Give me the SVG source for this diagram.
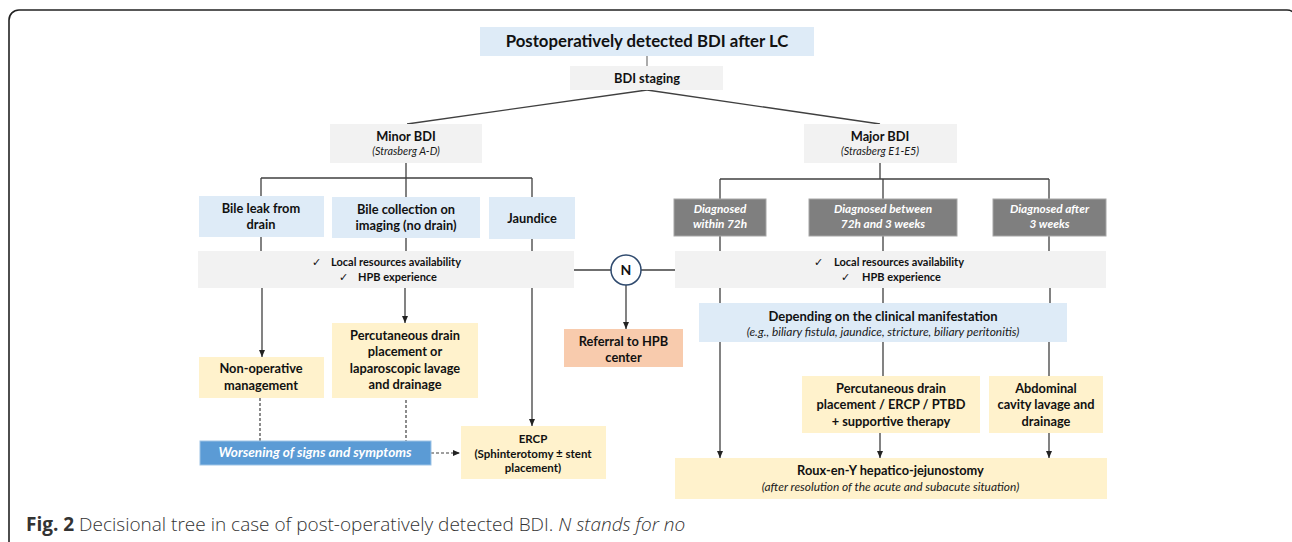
<svg xmlns="http://www.w3.org/2000/svg" width="1292" height="542" viewBox="0 0 1292 542">
<style>
  text { font-family: Lato, "Open Sans", "Liberation Sans", sans-serif; fill: #111; }
  .b { font-weight: 700; font-size: 12.8px; }
  .t { font-weight: 700; font-size: 16.8px; }
  .i { font-style: italic; font-size: 10.8px; fill: #1a1a1a; }
  .bi { font-style: italic; font-weight: 700; font-size: 11.8px; fill: #fff; }
  .w { font-style: italic; font-weight: 700; font-size: 13.6px; fill: #fff; }
  .s { font-weight: 700; font-size: 11px; }
  .ck { font-family: "DejaVu Sans", sans-serif; font-size: 11px; }
  .ii { font-style: italic; font-size: 11.9px; fill: #1a1a1a; }
  .sm { font-weight: 700; font-size: 11.5px; }
  .cap { font-family: "Open Sans", "Noto Sans", sans-serif; font-weight: 300; font-size: 19px; fill: #333; }
  .blue { fill: #deebf7; }
  .gray { fill: #f2f2f2; }
  .yel { fill: #fff2cc; }
  .sal { fill: #f8cbad; }
  .dk { fill: #7f7f7f; stroke: #a6a6a6; stroke-width: 1; }
  .wb { fill: #5b9bd5; stroke: #9dc3e6; stroke-width: 1; }
  .ln { stroke: #404040; stroke-width: 1.3; fill: none; }
  .ar { stroke: #404040; stroke-width: 1.3; fill: none; marker-end: url(#ah); }
  .da { stroke: #404040; stroke-width: 1.2; fill: none; stroke-dasharray: 3 2; }
</style>
<defs>
  <marker id="ah" markerWidth="7" markerHeight="6" refX="7" refY="3" orient="auto" markerUnits="userSpaceOnUse">
    <path d="M0,0 L7,3 L0,6 Z" fill="#222"/>
  </marker>
</defs>
<rect x="9" y="10" width="1288" height="560" rx="10" fill="#fff" stroke="#222" stroke-width="1.6"/>

<g id="connectors">
  <line x1="647" y1="56" x2="647" y2="66" stroke="#7f7f7f" stroke-width="1.3"/>
  <line class="ln" x1="647" y1="90" x2="407" y2="124"/>
  <line class="ln" x1="647" y1="90" x2="880" y2="124"/>
  <path class="ln" d="M406,163 V178 M261,178 H532 M261,178 V197 M406,178 V197 M532,178 V197"/>
  <path class="ln" d="M880,163 V179 M720,179 H1049 M720,179 V199 M883,179 V199 M1049,179 V199"/>
  <path class="ln" d="M261,237 V251 M406,238 V251 M532,239 V251"/>
  <path class="ln" d="M720,236 V251 M883,236 V251 M1049,236 V251"/>
  <path class="ln" d="M574,270 H611 M641,270 H675"/>
  <line class="ar" x1="626" y1="285" x2="626" y2="329"/>
  <line class="ar" x1="262" y1="288" x2="262" y2="357"/>
  <line class="ar" x1="405" y1="288" x2="405" y2="323"/>
  <line class="ar" x1="532" y1="288" x2="532" y2="426"/>
  <line class="da" x1="260" y1="398" x2="260" y2="441"/>
  <line class="da" x1="406" y1="390" x2="406" y2="441"/>
  <line class="da" x1="431" y1="453" x2="460" y2="453" marker-end="url(#ah)"/>
  <path class="ln" d="M720,288 V303 M883,288 V303 M1050,288 V303"/>
  <line class="ar" x1="720" y1="342" x2="720" y2="458"/>
  <line class="ln" x1="883" y1="342" x2="883" y2="376"/>
  <line class="ln" x1="1049" y1="342" x2="1049" y2="376"/>
  <line class="ar" x1="880" y1="433" x2="880" y2="458"/>
  <line class="ar" x1="1049" y1="433" x2="1049" y2="458"/>
</g>

<g id="title">
  <rect class="blue" x="480" y="27" width="334" height="29"/>
  <text class="t" x="647" y="47" text-anchor="middle">Postoperatively detected BDI after LC</text>
</g>
<g id="staging">
  <rect class="gray" x="570" y="66" width="153" height="24"/>
  <text class="b" x="647" y="83" text-anchor="middle">BDI staging</text>
</g>
<g id="minor">
  <rect class="gray" x="330" y="124" width="152" height="39"/>
  <text class="b" x="406" y="141" text-anchor="middle">Minor BDI</text>
  <text class="i" x="406" y="155" text-anchor="middle">(Strasberg A-D)</text>
</g>
<g id="major">
  <rect class="gray" x="804" y="124" width="153" height="39"/>
  <text class="b" x="880" y="141" text-anchor="middle">Major BDI</text>
  <text class="i" x="880" y="155" text-anchor="middle">(Strasberg E1-E5)</text>
</g>
<g id="bileleak">
  <rect class="blue" x="199" y="196" width="125" height="41"/>
  <text class="b" x="261" y="213" text-anchor="middle">Bile leak from</text>
  <text class="b" x="261" y="229" text-anchor="middle">drain</text>
</g>
<g id="bilecollection">
  <rect class="blue" x="332" y="197" width="148" height="41"/>
  <text class="b" x="406" y="214" text-anchor="middle">Bile collection on</text>
  <text class="b" x="406" y="230" text-anchor="middle">imaging (no drain)</text>
</g>
<g id="jaundice">
  <rect class="blue" x="489" y="197" width="86" height="42"/>
  <text class="b" x="532" y="223" text-anchor="middle">Jaundice</text>
</g>
<g id="diag72">
  <rect class="dk" x="674" y="199" width="92" height="37"/>
  <text class="bi" x="720" y="213" text-anchor="middle">Diagnosed</text>
  <text class="bi" x="720" y="228" text-anchor="middle">within 72h</text>
</g>
<g id="diagbetween">
  <rect class="dk" x="809" y="199" width="148" height="37"/>
  <text class="bi" x="883" y="213" text-anchor="middle">Diagnosed between</text>
  <text class="bi" x="883" y="228" text-anchor="middle">72h and 3 weeks</text>
</g>
<g id="diagafter">
  <rect class="dk" x="993" y="199" width="113" height="37"/>
  <text class="bi" x="1049.5" y="213" text-anchor="middle">Diagnosed after</text>
  <text class="bi" x="1049.5" y="228" text-anchor="middle">3 weeks</text>
</g>
<g id="resources-left">
  <rect class="gray" x="198" y="251" width="376" height="37"/>
  <text class="ck" x="312" y="266">✓</text>
  <text class="s" x="331" y="266">Local resources availability</text>
  <text class="ck" x="339" y="281">✓</text>
  <text class="s" x="358" y="281">HPB experience</text>
</g>
<g id="resources-right">
  <rect class="gray" x="675" y="251" width="431" height="37"/>
  <text class="ck" x="814" y="266">✓</text>
  <text class="s" x="834" y="266">Local resources availability</text>
  <text class="ck" x="841" y="281">✓</text>
  <text class="s" x="862" y="281">HPB experience</text>
</g>
<g id="n-decision">
  <circle cx="626" cy="270" r="15" fill="#fff" stroke="#2f4a6e" stroke-width="1.5"/>
  <text x="626" y="275" text-anchor="middle" style="font-weight:700;font-size:14px">N</text>
</g>
<g id="referral">
  <rect class="sal" x="564" y="329" width="119" height="38"/>
  <text class="b" x="623.5" y="346" text-anchor="middle">Referral to HPB</text>
  <text class="b" x="623.5" y="362" text-anchor="middle">center</text>
</g>
<g id="nonoperative">
  <rect class="yel" x="199" y="357" width="125" height="41"/>
  <text class="b" x="261" y="373" text-anchor="middle">Non-operative</text>
  <text class="b" x="261" y="390" text-anchor="middle">management</text>
</g>
<g id="percutaneous-left">
  <rect class="yel" x="332" y="323" width="146" height="75"/>
  <text class="b" x="405" y="340" text-anchor="middle">Percutaneous drain</text>
  <text class="b" x="405" y="356" text-anchor="middle">placement or</text>
  <text class="b" x="405" y="373" text-anchor="middle">laparoscopic lavage</text>
  <text class="b" x="405" y="389" text-anchor="middle">and drainage</text>
</g>
<g id="worsening">
  <rect class="wb" x="200" y="441" width="231" height="24"/>
  <text class="w" x="315" y="457" text-anchor="middle">Worsening of signs and symptoms</text>
</g>
<g id="ercp">
  <rect class="yel" x="461" y="426" width="145" height="53"/>
  <text class="sm" x="533" y="443" text-anchor="middle">ERCP</text>
  <text class="sm" x="533" y="458" text-anchor="middle">(Sphinterotomy ± stent</text>
  <text class="sm" x="533" y="472" text-anchor="middle">placement)</text>
</g>
<g id="depending">
  <rect class="blue" x="699" y="303" width="368" height="39"/>
  <text class="b" x="883" y="321" text-anchor="middle" style="font-size:13px">Depending on the clinical manifestation</text>
  <text class="ii" x="883" y="336" text-anchor="middle">(e.g., biliary fistula, jaundice, stricture, biliary peritonitis)</text>
</g>
<g id="percutaneous-right">
  <rect class="yel" x="802" y="376" width="178" height="57"/>
  <text class="b" x="891" y="393" text-anchor="middle">Percutaneous drain</text>
  <text class="b" x="891" y="409" text-anchor="middle">placement / ERCP / PTBD</text>
  <text class="b" x="891" y="426" text-anchor="middle">+ supportive therapy</text>
</g>
<g id="abdominal">
  <rect class="yel" x="989" y="376" width="114" height="57"/>
  <text class="b" x="1046" y="393" text-anchor="middle">Abdominal</text>
  <text class="b" x="1046" y="409" text-anchor="middle">cavity lavage and</text>
  <text class="b" x="1046" y="426" text-anchor="middle">drainage</text>
</g>
<g id="roux">
  <rect class="yel" x="675" y="458" width="432" height="41"/>
  <text class="b" x="890.5" y="475" text-anchor="middle">Roux-en-Y hepatico-jejunostomy</text>
  <text class="ii" x="890.5" y="491" text-anchor="middle">(after resolution of the acute and subacute situation)</text>
</g>
<text class="cap" x="26" y="531"><tspan style="font-weight:700">Fig. 2</tspan> Decisional tree in case of post-operatively detected BDI. <tspan style="font-style:italic">N stands for no</tspan></text>
</svg>
